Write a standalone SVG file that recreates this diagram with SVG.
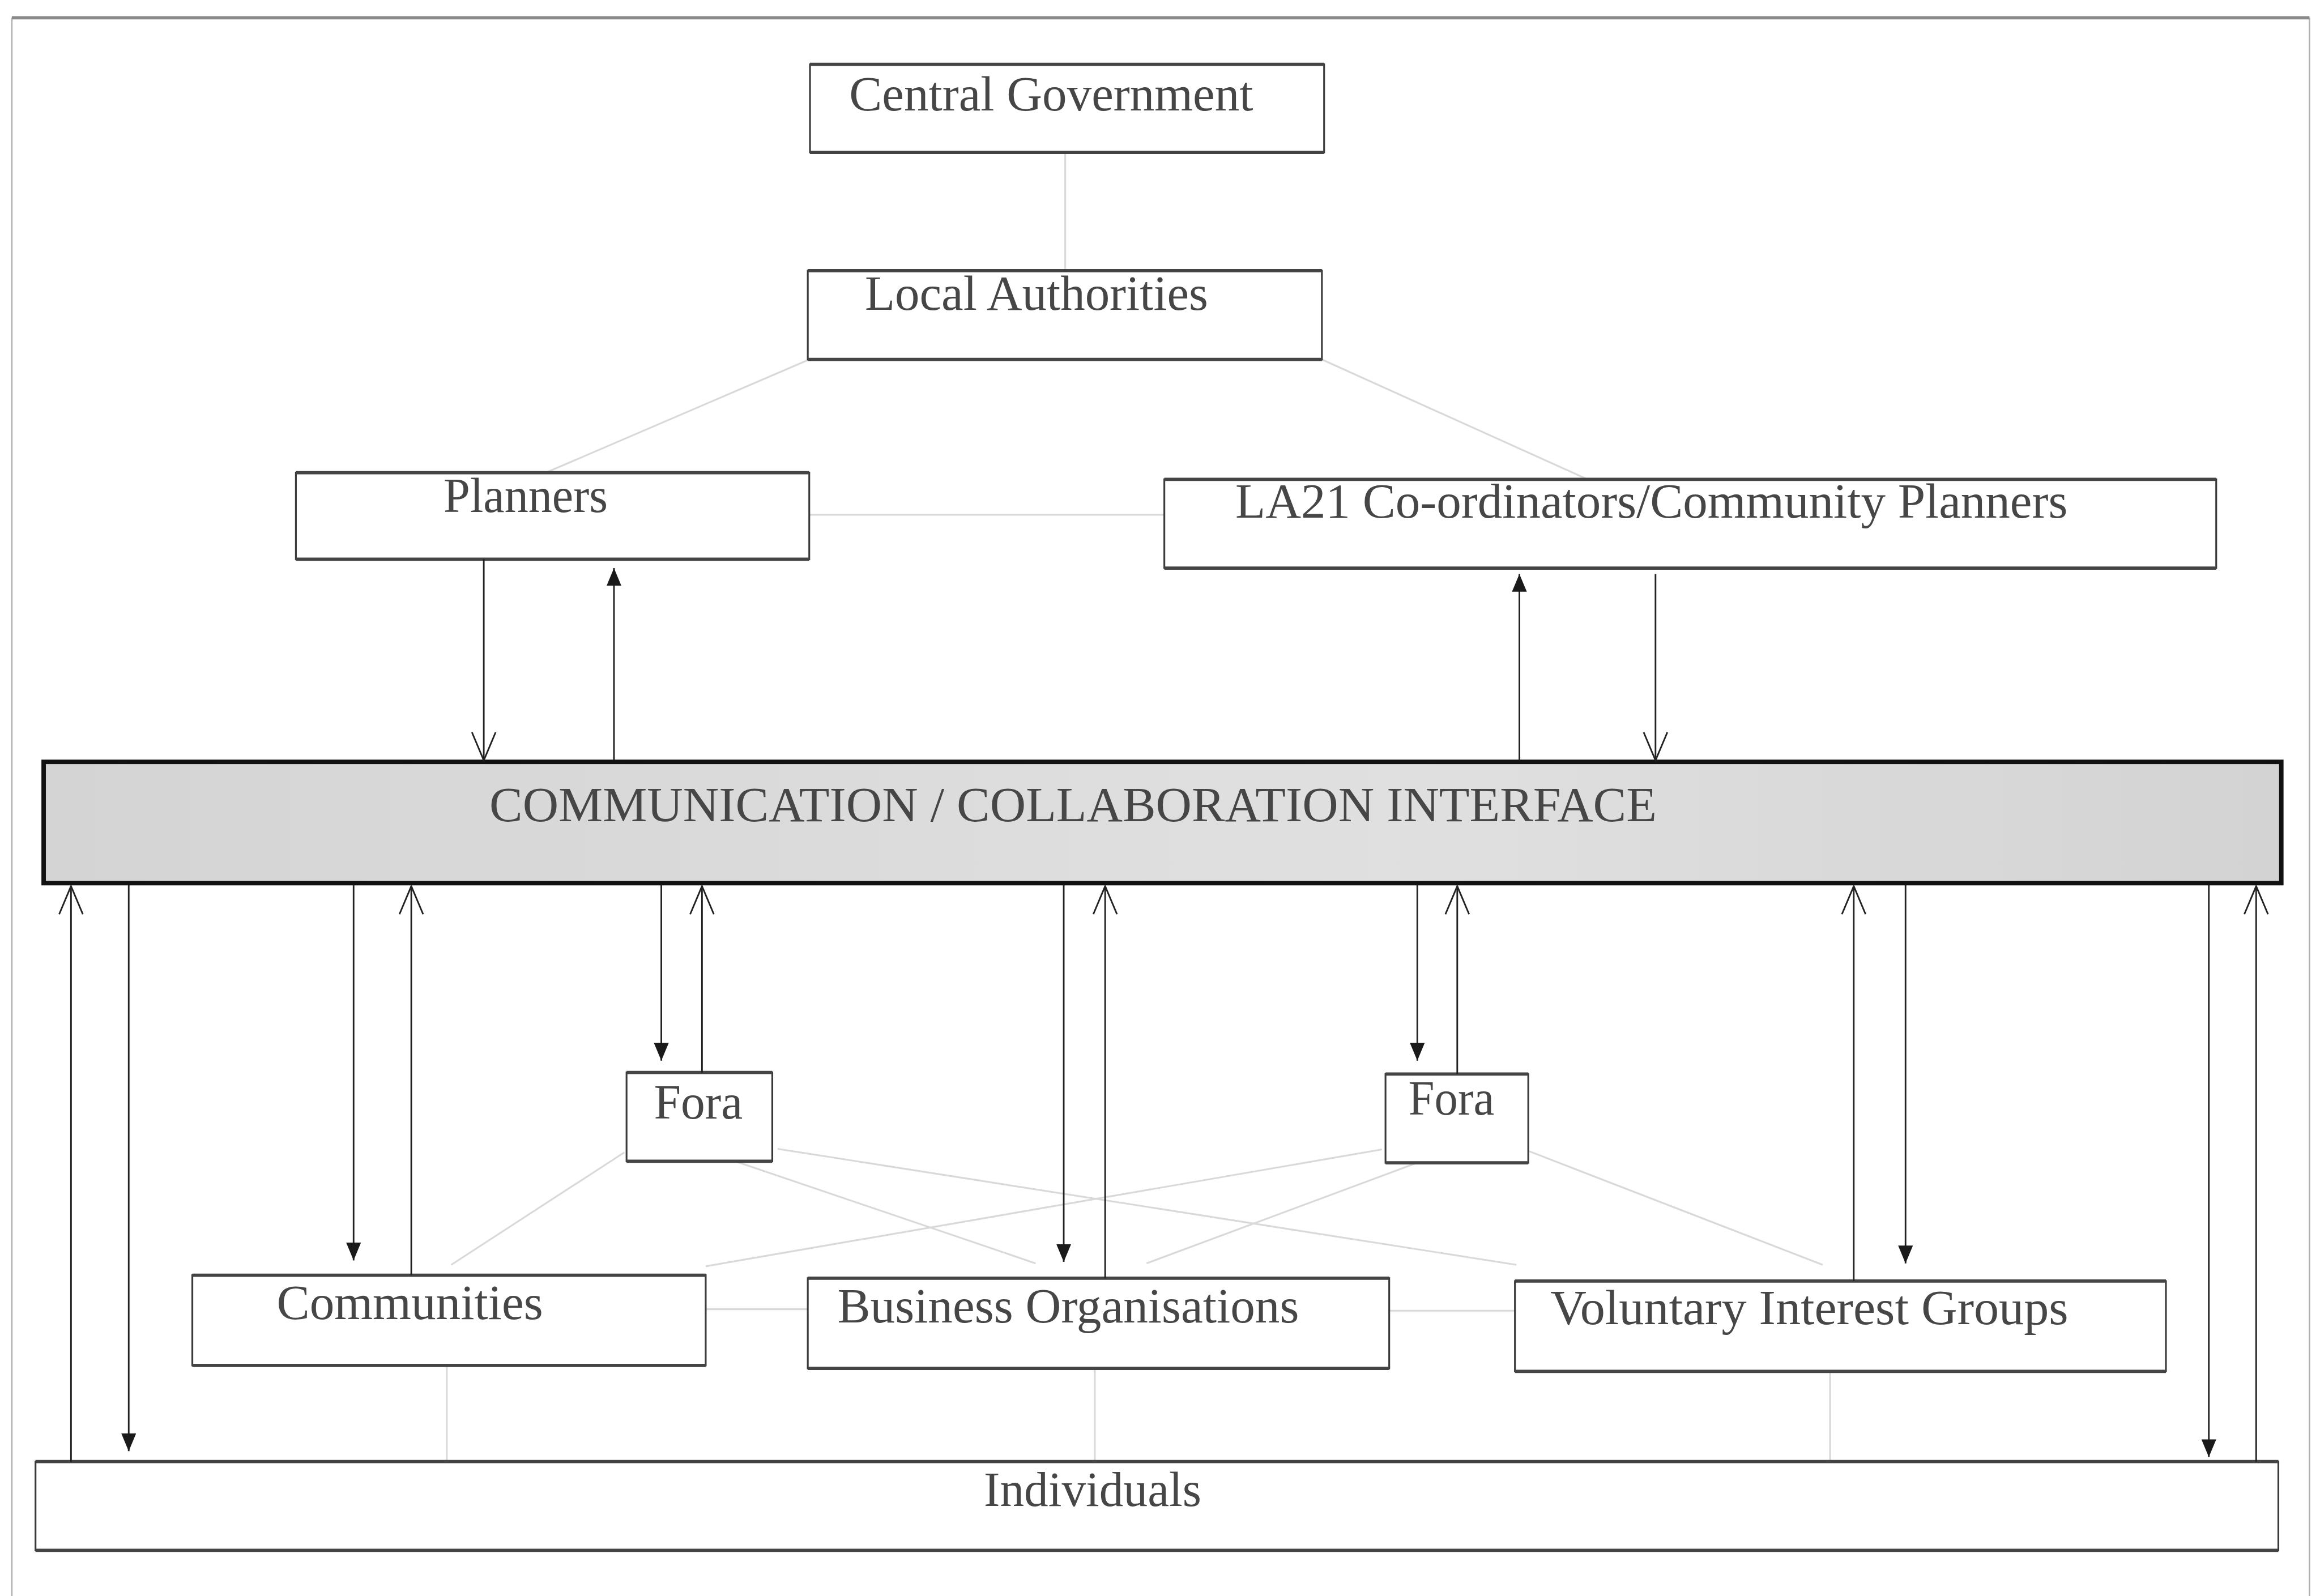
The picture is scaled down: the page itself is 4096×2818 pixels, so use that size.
<svg xmlns="http://www.w3.org/2000/svg" width="4096" height="2818" viewBox="0 0 4096 2818">
  <defs>
    <style>
      .box { fill: #ffffff; stroke: #3a3a3a; stroke-width: 1.2; }
      .edge { fill: none; stroke: #444444; stroke-width: 2.2; }
      .label { font-family: "Liberation Serif", "Times New Roman", serif; font-size: 33px; fill: #464646; }
      .link { fill: none; stroke: #d9d9d9; stroke-width: 1.2; }
      .flow { fill: none; stroke: #222222; stroke-width: 1.1; }
      .frame { fill: none; stroke: #b0b0b0; stroke-width: 1; }
    </style>
    <linearGradient id="bandFill" x1="0" y1="0" x2="1" y2="0">
      <stop offset="0" stop-color="#d4d4d4"/>
      <stop offset="0.35" stop-color="#dbdbdb"/>
      <stop offset="0.6" stop-color="#e0e0e0"/>
      <stop offset="1" stop-color="#d3d3d3"/>
    </linearGradient>
    <marker id="headSolid" markerUnits="userSpaceOnUse" viewBox="0 0 12 10" refX="12" refY="5" markerWidth="12" markerHeight="10" orient="auto">
      <path d="M0,0 L12,5 L0,10 Z" fill="#1a1a1a"/>
    </marker>
    <marker id="headOpen" markerUnits="userSpaceOnUse" viewBox="-1 -1 21 18" refX="19" refY="8" markerWidth="21" markerHeight="18" orient="auto">
      <path d="M0,0 L19,8 L0,16" fill="none" stroke="#222222" stroke-width="1.1"/>
    </marker>
  </defs>

  <rect x="0" y="0" width="4096" height="2818" fill="#ffffff"/>

  <g transform="scale(2.612)">
    <!-- page frame -->
    <g id="frame">
      <path class="frame" d="M8,1085 V12 M1561,12 V1085"/>
      <line x1="8" y1="12" x2="1561" y2="12" stroke="#8a8a8a" stroke-width="2.2"/>
    </g>

    <!-- light relationship lines between nodes -->
    <g id="links">
      <line class="link" x1="720" y1="103" x2="720" y2="183"/>
      <line class="link" x1="547" y1="243" x2="369" y2="319.5"/>
      <line class="link" x1="893.5" y1="243" x2="1073" y2="324"/>
      <line class="link" x1="547" y1="348" x2="787" y2="348"/>
      <line class="link" x1="422" y1="779" x2="305" y2="855"/>
      <line class="link" x1="497" y1="785" x2="700" y2="854"/>
      <line class="link" x1="525.6" y1="776.6" x2="1025" y2="855"/>
      <line class="link" x1="934" y1="777" x2="477" y2="856"/>
      <line class="link" x1="958" y1="786" x2="775" y2="854"/>
      <line class="link" x1="1033" y1="778" x2="1232" y2="855"/>
      <line class="link" x1="477" y1="885" x2="546" y2="885"/>
      <line class="link" x1="939" y1="886" x2="1024" y2="886"/>
      <line class="link" x1="302" y1="923" x2="302" y2="988"/>
      <line class="link" x1="740" y1="925" x2="740" y2="988"/>
      <line class="link" x1="1237" y1="927" x2="1237" y2="988"/>
    </g>

    <!-- nodes -->
    <g id="central-government">
      <rect class="box" x="547.5" y="43.5" width="347.5" height="59.5"/>
      <path class="edge" d="M547.5,43.5 H895 M547.5,103 H895"/>
      <text class="label" x="574" y="74.6" textLength="273" lengthAdjust="spacingAndGlyphs">Central Government</text>
    </g>
    <g id="local-authorities">
      <rect class="box" x="546" y="183" width="347.5" height="60"/>
      <path class="edge" d="M546,183 H893.5 M546,243 H893.5"/>
      <text class="label" x="584.6" y="209.3" textLength="232" lengthAdjust="spacingAndGlyphs">Local Authorities</text>
    </g>
    <g id="planners">
      <rect class="box" x="200" y="319.5" width="347" height="58.5"/>
      <path class="edge" d="M200,319.5 H547 M200,378 H547"/>
      <text class="label" x="299.8" y="346" textLength="111" lengthAdjust="spacingAndGlyphs">Planners</text>
    </g>
    <g id="la21-coordinators">
      <rect class="box" x="787" y="324" width="711" height="60"/>
      <path class="edge" d="M787,324 H1498 M787,384 H1498"/>
      <text class="label" x="835" y="350" textLength="562.5" lengthAdjust="spacingAndGlyphs">LA21 Co-ordinators/Community Planners</text>
    </g>
    <g id="interface">
      <rect x="29.5" y="515" width="1512.5" height="82" fill="url(#bandFill)" stroke="#111111" stroke-width="3"/>
      <text class="label" x="330.8" y="555" textLength="789" lengthAdjust="spacingAndGlyphs">COMMUNICATION / COLLABORATION INTERFACE</text>
    </g>
    <g id="fora-left">
      <rect class="box" x="423.5" y="725" width="98.5" height="60"/>
      <path class="edge" d="M423.5,725 H522 M423.5,785 H522"/>
      <text class="label" x="442" y="756" textLength="60" lengthAdjust="spacingAndGlyphs">Fora</text>
    </g>
    <g id="fora-right">
      <rect class="box" x="936.5" y="726" width="96.5" height="60"/>
      <path class="edge" d="M936.5,726 H1033 M936.5,786 H1033"/>
      <text class="label" x="952" y="753.6" textLength="58" lengthAdjust="spacingAndGlyphs">Fora</text>
    </g>
    <g id="communities">
      <rect class="box" x="130" y="862" width="347" height="61"/>
      <path class="edge" d="M130,862 H477 M130,923 H477"/>
      <text class="label" x="187" y="891.5" textLength="180" lengthAdjust="spacingAndGlyphs">Communities</text>
    </g>
    <g id="business-organisations">
      <rect class="box" x="546" y="864" width="393" height="61"/>
      <path class="edge" d="M546,864 H939 M546,925 H939"/>
      <text class="label" x="566" y="893.8" textLength="312" lengthAdjust="spacingAndGlyphs">Business Organisations</text>
    </g>
    <g id="voluntary-interest-groups">
      <rect class="box" x="1024" y="866" width="440" height="61"/>
      <path class="edge" d="M1024,866 H1464 M1024,927 H1464"/>
      <text class="label" x="1048" y="895" textLength="350" lengthAdjust="spacingAndGlyphs">Voluntary Interest Groups</text>
    </g>
    <g id="individuals">
      <rect class="box" x="24" y="988" width="1516" height="60"/>
      <path class="edge" d="M24,988 H1540 M24,1048 H1540"/>
      <text class="label" x="665" y="1018" textLength="147" lengthAdjust="spacingAndGlyphs">Individuals</text>
    </g>

    <!-- flows to and from the interface -->
    <g id="connectors">
      <line class="flow" x1="327" y1="378" x2="327" y2="514" marker-end="url(#headOpen)"/>
      <line class="flow" x1="415" y1="514" x2="415" y2="384" marker-end="url(#headSolid)"/>
      <line class="flow" x1="1027" y1="514" x2="1027" y2="388" marker-end="url(#headSolid)"/>
      <line class="flow" x1="1119" y1="388" x2="1119" y2="514" marker-end="url(#headOpen)"/>

      <line class="flow" x1="48" y1="988" x2="48" y2="599" marker-end="url(#headOpen)"/>
      <line class="flow" x1="87" y1="598" x2="87" y2="981" marker-end="url(#headSolid)"/>
      <line class="flow" x1="239" y1="598" x2="239" y2="852" marker-end="url(#headSolid)"/>
      <line class="flow" x1="278" y1="862" x2="278" y2="599" marker-end="url(#headOpen)"/>
      <line class="flow" x1="447" y1="598" x2="447" y2="717" marker-end="url(#headSolid)"/>
      <line class="flow" x1="474.5" y1="725" x2="474.5" y2="599" marker-end="url(#headOpen)"/>
      <line class="flow" x1="719" y1="598" x2="719" y2="853" marker-end="url(#headSolid)"/>
      <line class="flow" x1="747" y1="864" x2="747" y2="599" marker-end="url(#headOpen)"/>
      <line class="flow" x1="958" y1="598" x2="958" y2="717" marker-end="url(#headSolid)"/>
      <line class="flow" x1="985" y1="726" x2="985" y2="599" marker-end="url(#headOpen)"/>
      <line class="flow" x1="1253" y1="866" x2="1253" y2="599" marker-end="url(#headOpen)"/>
      <line class="flow" x1="1288" y1="598" x2="1288" y2="854" marker-end="url(#headSolid)"/>
      <line class="flow" x1="1493" y1="598" x2="1493" y2="985" marker-end="url(#headSolid)"/>
      <line class="flow" x1="1525" y1="988" x2="1525" y2="599" marker-end="url(#headOpen)"/>
    </g>
  </g>
</svg>
